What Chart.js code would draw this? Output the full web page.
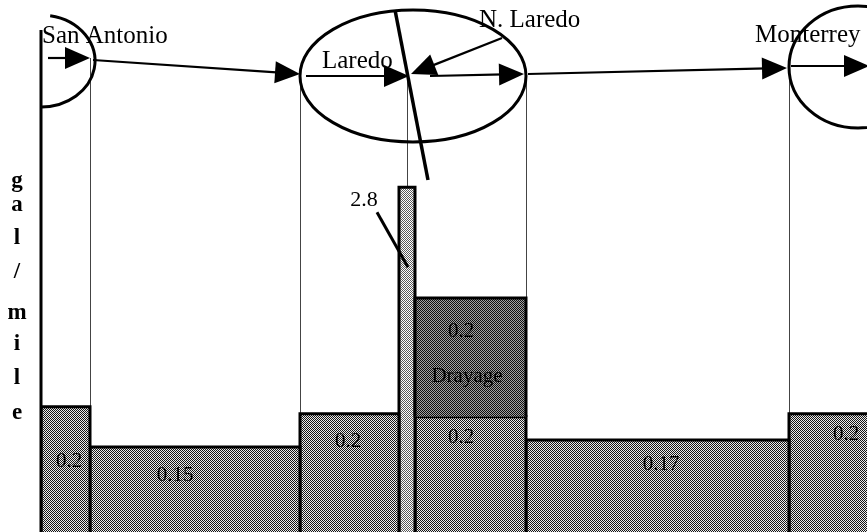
<!DOCTYPE html>
<html>
<head>
<meta charset="utf-8">
<script src="https://cdn.jsdelivr.net/npm/chart.js@4/dist/chart.umd.min.js"></script>
<style>
  html, body { margin: 0; padding: 0; background: #fff; }
  canvas { display: block; background: #fff; }
</style>
</head>
<body>
<canvas id="route" width="867" height="532"></canvas>
<script>
// route legs, San Antonio -> Monterrey, drawn length along the route
const legNames = ['San Antonio', 'San Antonio - Laredo', 'Laredo', 'Border crossing',
    'N. Laredo', 'N. Laredo - Monterrey', 'Monterrey'];
const legLengths = [49, 210, 99, 16, 111, 263, 90];
// bar heights as drawn (schematic, not to scale) and the printed gal/mile values
const drawnHeights = [0.200, 0.136, 0.189, 0.551, 0.184, 0.147, 0.189];
const printedValues = ['0.2', '0.15', '0.2', '2.8', '0.2', '0.17', '0.2'];
// drayage block stacked on the N. Laredo leg
const drayageLeg = 4;
const drayageHeight = 0.190;
const drayageValue = '0.2';
const cityNames = ['San Antonio', 'Laredo', 'N. Laredo', 'Monterrey'];
const axisTitle = 'gal/mile';

const canvas = document.getElementById('route');
const ctx = canvas.getContext('2d');

function makePattern(dark, light) {
    const c = document.createElement('canvas');
    c.width = 2;
    c.height = 2;
    const g = c.getContext('2d');
    g.fillStyle = light;
    g.fillRect(0, 0, 2, 2);
    g.fillStyle = dark;
    g.fillRect(0, 0, 1, 1);
    g.fillRect(1, 1, 1, 1);
    return ctx.createPattern(c, 'repeat');
}

const fillMain = makePattern('#161616', '#ececec');
const fillLight = makePattern('#5a5a5a', '#ffffff');
const fillDark = makePattern('#0e0e0e', '#a2a2a2');

// leg start positions
const legStarts = [];
legLengths.reduce(function (acc, len) {
    legStarts.push(acc);
    return acc + len;
}, 0);

function rect(x0, x1, y0, y1) {
    return [{x: x0, y: y0}, {x: x0, y: y1}, {x: x1, y: y1}, {x: x1, y: y0}];
}

const datasets = legLengths.map(function (len, i) {
    return {
        label: legNames[i],
        data: rect(legStarts[i], legStarts[i] + len, 0, drawnHeights[i]),
        backgroundColor: i === 3 ? fillLight : fillMain,
        fill: 'origin',
        order: 2
    };
});
datasets.push({
    label: 'Drayage',
    data: rect(legStarts[drayageLeg], legStarts[drayageLeg] + legLengths[drayageLeg],
        drawnHeights[drayageLeg], drawnHeights[drayageLeg] + drayageHeight),
    backgroundColor: fillDark,
    fill: {value: drawnHeights[drayageLeg]},
    order: 1
});

const serif = '"Liberation Serif", "Times New Roman", serif';

function arrow(c, x1, y1, x2, y2) {
    const a = Math.atan2(y2 - y1, x2 - x1);
    c.beginPath();
    c.moveTo(x1, y1);
    c.lineTo(x2 - 20 * Math.cos(a), y2 - 20 * Math.sin(a));
    c.lineWidth = 2.2;
    c.stroke();
    c.beginPath();
    c.moveTo(x2, y2);
    c.lineTo(x2 - 25 * Math.cos(a) + 11 * Math.sin(a), y2 - 25 * Math.sin(a) - 11 * Math.cos(a));
    c.lineTo(x2 - 25 * Math.cos(a) - 11 * Math.sin(a), y2 - 25 * Math.sin(a) + 11 * Math.cos(a));
    c.closePath();
    c.fill();
}

const routeDiagram = {
    id: 'routeDiagram',
    beforeDatasetsDraw: function (chart) {
        const c = chart.ctx;
        const xs = chart.scales.x;
        const ys = chart.scales.y;
        const top = drawnHeights.map(function (h) { return ys.getPixelForValue(h); });
        const bx = function (i) { return xs.getPixelForValue(legStarts[i]); };
        const dray = ys.getPixelForValue(drawnHeights[drayageLeg] + drayageHeight);
        c.save();
        c.strokeStyle = '#444';
        c.lineWidth = 1;
        [[bx(1), 58, Math.min(top[0], top[1])],
         [bx(2), 76, Math.min(top[1], top[2])],
         [(bx(3) + bx(4)) / 2, 77, top[3]],
         [bx(5), 75, dray],
         [bx(6), 67, Math.min(top[5], top[6])]].forEach(function (l) {
            c.beginPath();
            c.moveTo(Math.round(l[0]) + 0.5, l[1]);
            c.lineTo(Math.round(l[0]) + 0.5, l[2]);
            c.stroke();
        });
        c.restore();
    },
    afterDatasetsDraw: function (chart) {
        const c = chart.ctx;
        const area = chart.chartArea;
        const xs = chart.scales.x;
        const ys = chart.scales.y;
        const bx = function (i) { return xs.getPixelForValue(legStarts[i]); };
        const top = drawnHeights.map(function (h) { return ys.getPixelForValue(h); });
        c.save();
        c.fillStyle = '#000';
        c.strokeStyle = '#000';

        // left axis rule
        c.lineWidth = 3;
        c.beginPath();
        c.moveTo(area.left, 30);
        c.lineTo(area.left, area.bottom);
        c.stroke();

        // city ellipses
        c.lineWidth = 3;
        c.beginPath();
        c.ellipse(area.left, 61, 54, 46, 0, -1.40, 1.56);
        c.stroke();
        const lx = (bx(2) + bx(5)) / 2;
        c.beginPath();
        c.ellipse(lx, 76, (bx(5) - bx(2)) / 2, 66, 0, 0, Math.PI * 2);
        c.stroke();
        c.beginPath();
        c.ellipse(bx(6) + 69, 67, 69, 61, 0, 0, Math.PI * 2);
        c.stroke();

        // border line
        c.lineWidth = 3.5;
        c.beginPath();
        c.moveTo(395, 10);
        c.lineTo(428, 180);
        c.stroke();

        // route arrows
        arrow(c, area.left + 7, 58, bx(1), 58);
        arrow(c, bx(1) + 3, 60, bx(2), 74);
        arrow(c, bx(2) + 6, 76, 409, 76);
        arrow(c, 430, 76, bx(5) - 2, 74);
        arrow(c, bx(5) + 2, 74, bx(6) - 2, 68);
        arrow(c, bx(6) + 2, 66, area.right + 2, 66);
        arrow(c, 502, 38, 411, 74);

        // city names
        c.font = '25px ' + serif;
        c.textAlign = 'left';
        c.textBaseline = 'alphabetic';
        c.fillText(cityNames[0], area.left + 1, 43);
        c.fillText(cityNames[1], 322, 68);
        c.fillText(cityNames[2], 479, 27);
        c.fillText(cityNames[3], 755, 42);

        // axis title, one letter per line
        c.font = 'bold 23px ' + serif;
        c.textAlign = 'center';
        c.textBaseline = 'middle';
        const letterY = [181, 205, 238, 272, 313, 344, 378, 413];
        axisTitle.split('').forEach(function (ch, i) {
            c.fillText(ch, 17, letterY[i]);
        });

        // bar values
        c.font = '21px ' + serif;
        c.fillStyle = '#000';
        const nudgeX = [3.5, -20, -1.5, 0, -9.5, 3.5, 12];
        const nudgeY = [55, 29, 28, 0, 21, 24, 21];
        printedValues.forEach(function (txt, i) {
            if (i === 3) {
                return;
            }
            const x0 = bx(i);
            const x1 = xs.getPixelForValue(legStarts[i] + legLengths[i]);
            const cx = (x0 + Math.min(x1, area.right + 40)) / 2;
            c.fillText(txt, cx + nudgeX[i], top[i] + nudgeY[i]);
        });
        const dTop = ys.getPixelForValue(drawnHeights[drayageLeg] + drayageHeight);
        const dCx = (bx(4) + bx(5)) / 2;
        c.fillText(drayageValue, dCx - 9.5, dTop + 34);
        c.fillText('Drayage', dCx - 3.5, dTop + 79);

        // tall crossing bar value with leader
        c.font = '22px ' + serif;
        c.fillText(printedValues[3], bx(3) - 35, top[3] + 13);
        c.lineWidth = 3;
        c.beginPath();
        c.moveTo(bx(3) - 22, top[3] + 25);
        c.lineTo(bx(3) + 9, top[3] + 80);
        c.stroke();
        c.restore();
    }
};

new Chart(canvas, {
    type: 'line',
    data: {datasets: datasets},
    options: {
        responsive: false,
        animation: false,
        layout: {padding: {left: 41, right: 0, top: 0, bottom: 0}},
        elements: {
            line: {borderColor: '#000', borderWidth: 3, tension: 0, borderJoinStyle: 'miter'},
            point: {radius: 0, hoverRadius: 0}
        },
        plugins: {
            legend: {display: false},
            tooltip: {enabled: false}
        },
        events: [],
        scales: {
            x: {type: 'linear', min: 0, max: 826, display: false},
            y: {type: 'linear', min: 0, max: 0.85, display: false}
        }
    },
    plugins: [routeDiagram]
});
</script>
</body>
</html>
